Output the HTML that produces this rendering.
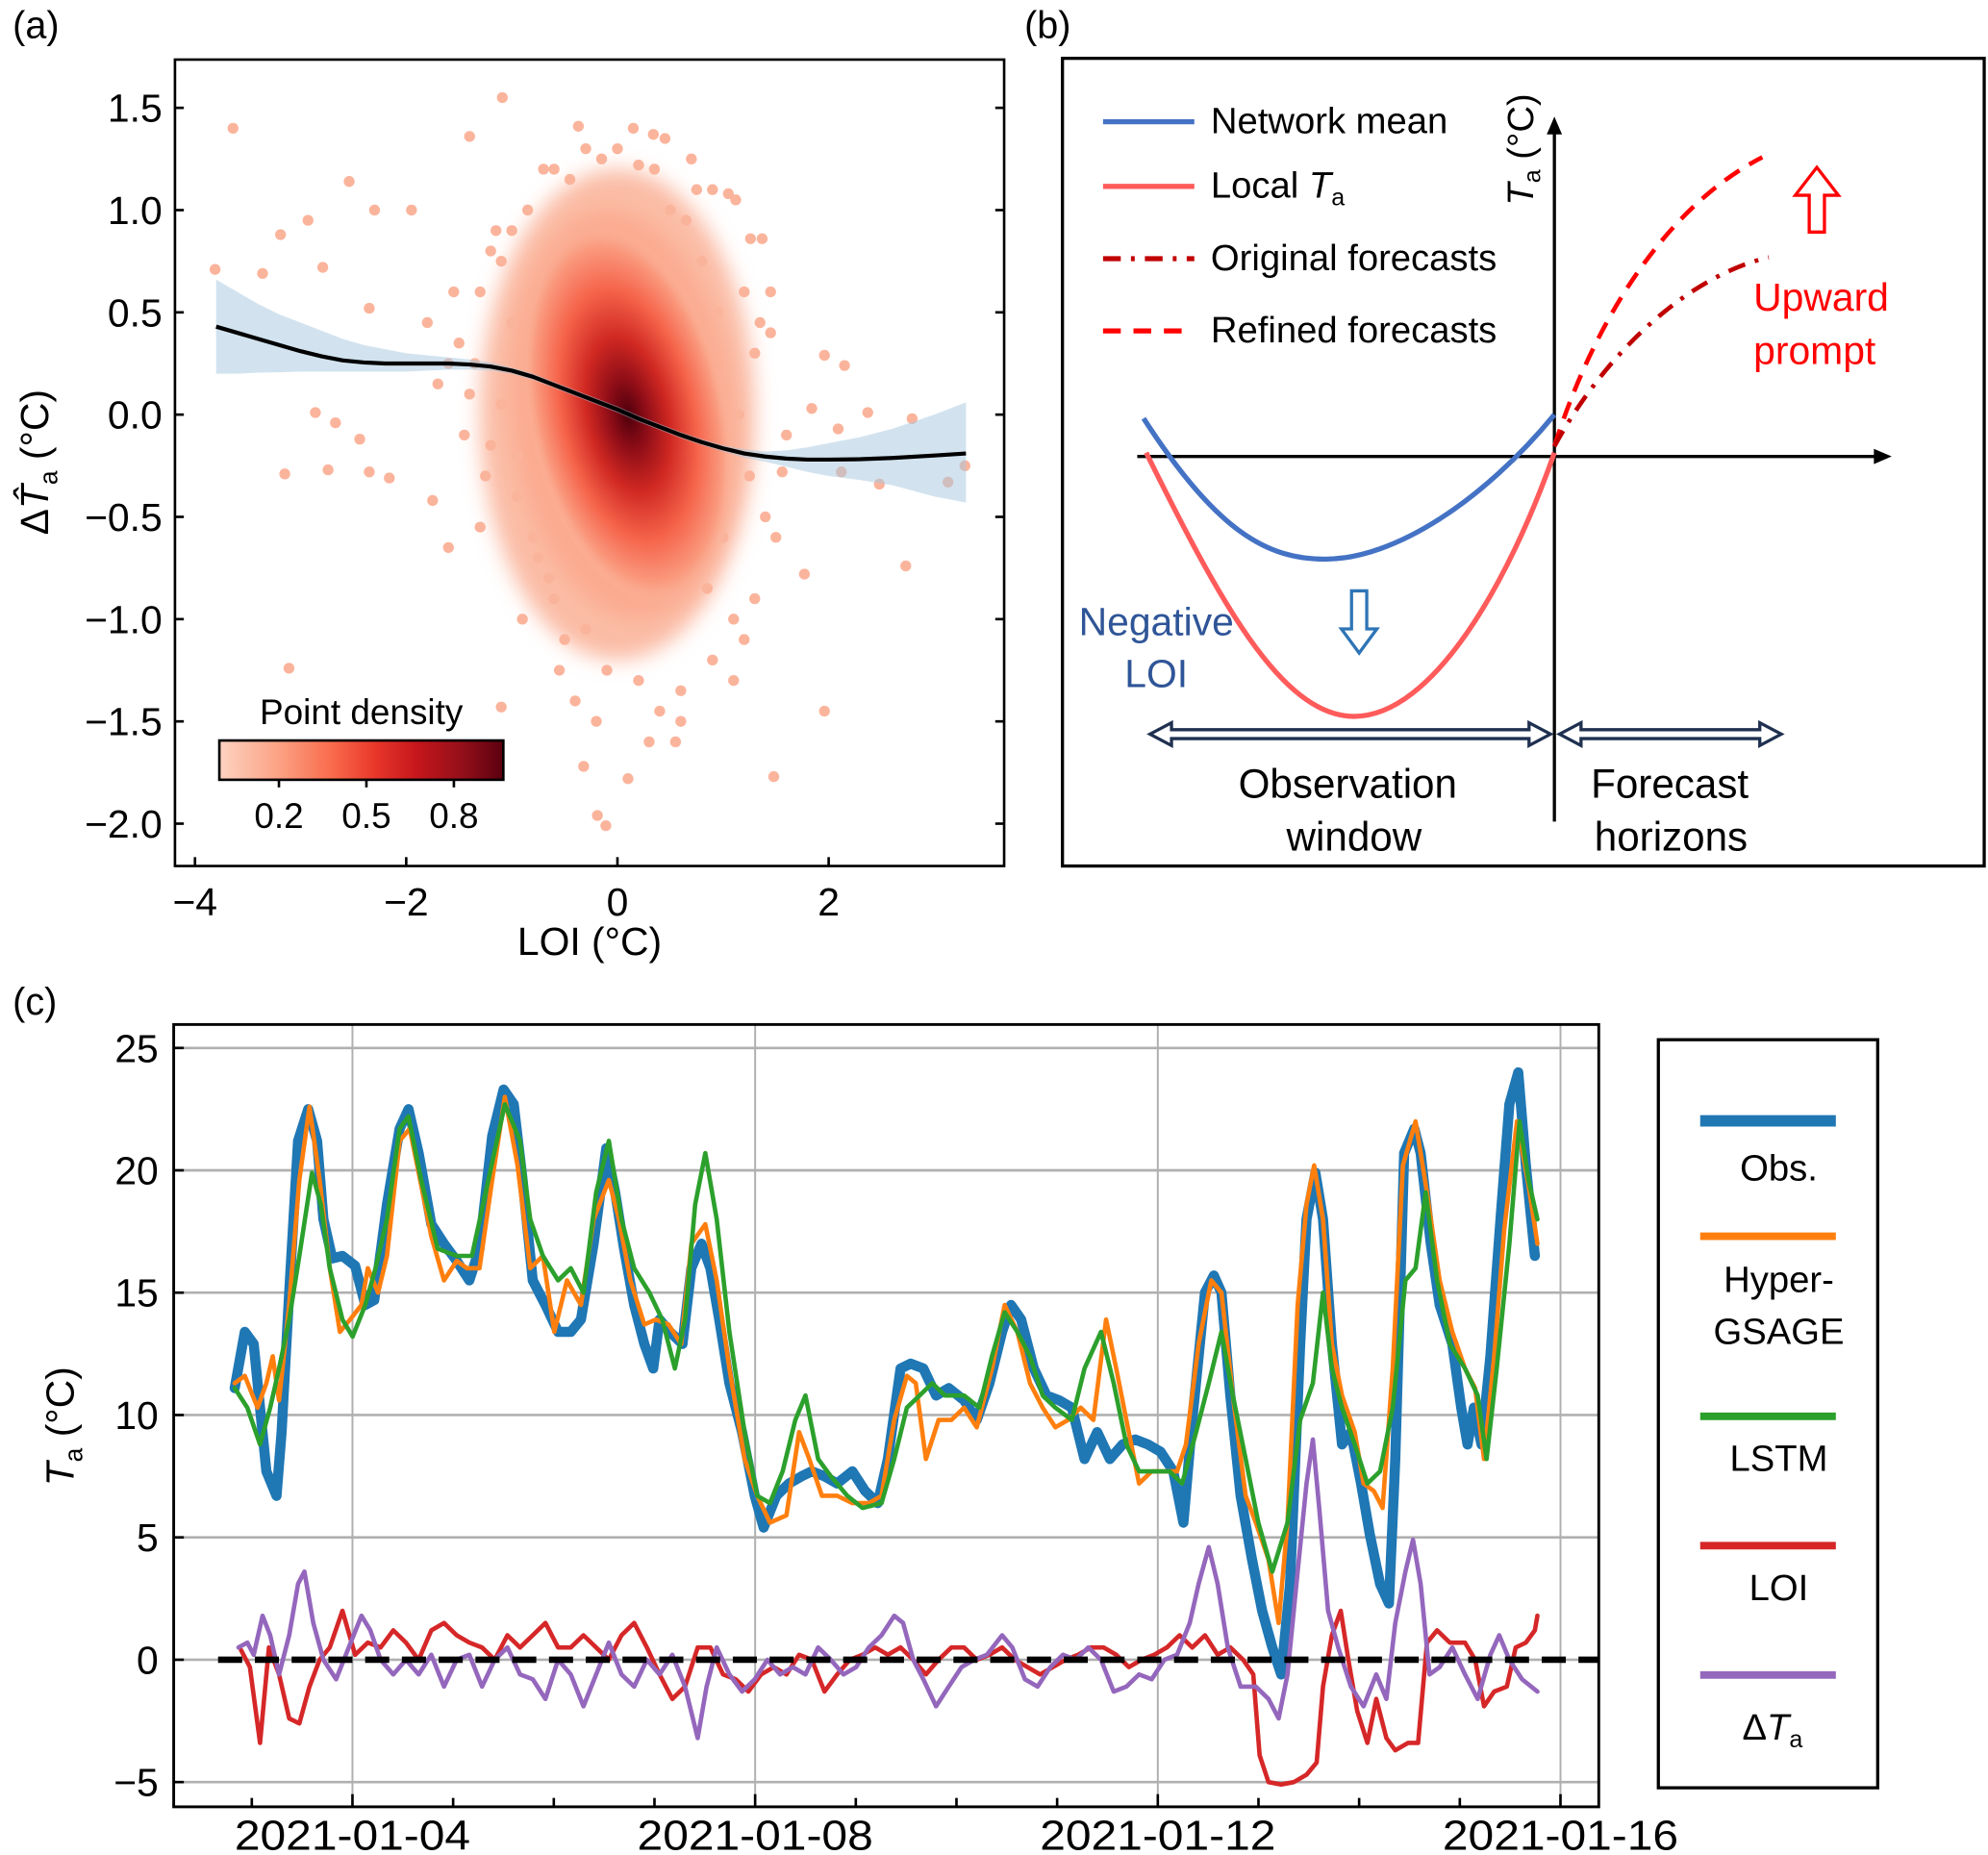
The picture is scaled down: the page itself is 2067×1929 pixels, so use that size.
<!DOCTYPE html>
<html><head><meta charset="utf-8">
<style>
html,body{margin:0;padding:0;background:#fff;}
svg{display:block;font-family:"Liberation Sans","DejaVu Sans",sans-serif;}
</style></head>
<body>
<svg id="fig" width="2067" height="1929" viewBox="0 0 1568 1463" preserveAspectRatio="none" xmlns="http://www.w3.org/2000/svg">
<defs>
<linearGradient id="cbar" x1="0" x2="1" y1="0" y2="0">
<stop offset="0" stop-color="#fdd3c1"/><stop offset="0.2" stop-color="#fca487"/>
<stop offset="0.4" stop-color="#f96a4b"/><stop offset="0.55" stop-color="#e8362a"/>
<stop offset="0.7" stop-color="#c4161c"/><stop offset="0.85" stop-color="#95101a"/>
<stop offset="1" stop-color="#5c0010"/></linearGradient>
<radialGradient id="dens" cx="0.5" cy="0.5" r="0.5">
<stop offset="0" stop-color="#4e000c"/><stop offset="0.18" stop-color="#8e0d17"/>
<stop offset="0.4" stop-color="#d02822"/><stop offset="0.65" stop-color="#f5634a"/>
<stop offset="0.88" stop-color="#fa9a7e"/><stop offset="1" stop-color="#fbb8a0" stop-opacity="0"/></radialGradient>
<filter id="blur"><feGaussianBlur stdDeviation="8"/></filter>
</defs>

<text x="10" y="30" font-size="30">(a)</text>
<text x="808" y="30" font-size="30">(b)</text>
<text x="10" y="800" font-size="30">(c)</text>

<g id="panelA"></g>
<g id="panelB">
<rect x="838" y="46" width="727" height="637" fill="none" stroke="#000" stroke-width="2.5"/>
<line x1="870" y1="96" x2="942" y2="96" stroke="#4472c4" stroke-width="4"/>
<text x="955" y="105" font-size="29">Network mean</text>
<line x1="870" y1="147" x2="942" y2="147" stroke="#ff5b5b" stroke-width="4"/>
<text x="955" y="156" font-size="29">Local <tspan font-style="italic">T</tspan><tspan font-size="19" dy="6">a</tspan></text>
<line x1="870" y1="204" x2="942" y2="204" stroke="#c00000" stroke-width="4" stroke-dasharray="14,8,3,8"/>
<text x="955" y="213" font-size="29">Original forecasts</text>
<line x1="870" y1="261" x2="942" y2="261" stroke="#ff0000" stroke-width="4" stroke-dasharray="14,10"/>
<text x="955" y="270" font-size="29">Refined forecasts</text>
<line x1="1226" y1="648" x2="1226" y2="100" stroke="#000" stroke-width="2.5"/>
<polygon points="1226,92 1220,106 1232,106" fill="#000"/>
<line x1="897" y1="360" x2="1482" y2="360" stroke="#000" stroke-width="2.5"/>
<polygon points="1492,360 1478,354 1478,366" fill="#000"/>
<text transform="translate(1209,162) rotate(-90)" font-size="29"><tspan font-style="italic">T</tspan><tspan font-size="19" dy="6">a</tspan><tspan dy="-6"> (°C)</tspan></text>
<path d="M902,330 C960,420 1000,441 1045,441 C1100,441 1170,395 1226,327" fill="none" stroke="#4472c4" stroke-width="4"/>
<path d="M904,357 C960,470 1010,565 1068,565 C1130,565 1190,460 1226,357" fill="none" stroke="#ff5b5b" stroke-width="4"/>
<path d="M1226,352 C1255,260 1310,165 1390,124" fill="none" stroke="#ff0000" stroke-width="3.5" stroke-dasharray="14,9"/>
<path d="M1226,352 C1265,280 1330,218 1395,203" fill="none" stroke="#c00000" stroke-width="3.5" stroke-dasharray="14,8,3,8"/>
<polygon points="1066,466 1078,466 1078,496 1086,496 1072,515 1058,496 1066,496" fill="#fff" stroke="#2e75b6" stroke-width="2.5"/>
<polygon points="1427,183 1439,183 1439,154 1450,154 1433,132 1416,154 1427,154" fill="#fff" stroke="#ff0000" stroke-width="2.5"/>
<text x="1383" y="245" font-size="31" fill="#ff0000">Upward</text>
<text x="1383" y="287" font-size="31" fill="#ff0000">prompt</text>
<text x="912" y="501" font-size="31" fill="#2f5597" text-anchor="middle">Negative</text>
<text x="912" y="542" font-size="31" fill="#2f5597" text-anchor="middle">LOI</text>
<polygon points="907,579 924,570 924,575.5 1206,575.5 1206,570 1223,579 1206,588 1206,582.5 924,582.5 924,588" fill="#fff" stroke="#1f3050" stroke-width="2.5"/>
<polygon points="1230,579 1247,570 1247,575.5 1388,575.5 1388,570 1405,579 1388,588 1388,582.5 1247,582.5 1247,588" fill="#fff" stroke="#1f3050" stroke-width="2.5"/>
<text x="1063" y="629" font-size="32" text-anchor="middle">Observation</text>
<text x="1068" y="671" font-size="32" text-anchor="middle">window</text>
<text x="1317" y="629" font-size="32" text-anchor="middle">Forecast</text>
<text x="1318" y="671" font-size="32" text-anchor="middle">horizons</text>
</g>
<g id="panelC"></g>
</svg>

<script>
// ===== Panel A data =====
const aXTicks=[-4,-2,0,2];
const aYTicks=[1.5,1.0,0.5,0.0,-0.5,-1.0,-1.5,-2.0];
const aYTickLabels=["1.5","1.0","0.5","0.0","\u22120.5","\u22121.0","\u22121.5","\u22122.0"];
const aXTickLabels=["\u22124","\u22122","0","2"];
const fitX=[-3.8,-3.6,-3.4,-3.2,-3,-2.8,-2.6,-2.4,-2.2,-2,-1.8,-1.6,-1.4,-1.2,-1,-0.8,-0.6,-0.4,-0.2,0,0.2,0.4,0.6,0.8,1,1.2,1.4,1.6,1.8,2,2.3,2.6,3,3.3];
const fitY=[0.43,0.40,0.37,0.34,0.31,0.285,0.265,0.255,0.25,0.25,0.25,0.25,0.245,0.235,0.215,0.185,0.145,0.105,0.065,0.025,-0.02,-0.06,-0.10,-0.135,-0.165,-0.19,-0.205,-0.215,-0.22,-0.22,-0.218,-0.212,-0.2,-0.19];
const bandHi=[0.66,0.60,0.54,0.49,0.45,0.41,0.37,0.34,0.32,0.30,0.29,0.28,0.27,0.255,0.23,0.2,0.16,0.12,0.08,0.04,-0.005,-0.045,-0.085,-0.12,-0.15,-0.17,-0.18,-0.175,-0.16,-0.14,-0.11,-0.07,0.0,0.06];
const bandLo=[0.20,0.20,0.205,0.207,0.21,0.21,0.21,0.21,0.21,0.21,0.215,0.22,0.22,0.215,0.2,0.17,0.13,0.09,0.05,0.01,-0.035,-0.075,-0.115,-0.15,-0.18,-0.21,-0.23,-0.255,-0.28,-0.30,-0.32,-0.345,-0.40,-0.43];
const outX=[-3.64,-3.81,-3.19,-2.93,-2.54,-2.3,-1.95,-3.36,-2.79,-2.35,-3.15,-2.74,-2.35,-2.16,-2.86,-2.67,-2.44,-3.11,-1.1,-0.32,-0.19,-0.11,0.1,1.48,1.96,1.77,2.73,3.13,3.29,2.79,2.37,1.96,2.15,2.09,2.12,2.48,-1.09,-1.4,-0.37,0.34,1.26,1.37,1.05,1.12,1.84,1.56,-1.8,-1.75,-1.6,-1.7,1.5,1.45,1.6,-0.6,0.7,0.55,-0.9,-1.2,1.1,0.9,
-1.5,-1.3,-1.4,-1.2,-1.1,-1.0,-0.95,-1.25,-1.35,-1.15,-0.85,-0.7,-0.75,-0.6,-0.45,-0.3,-0.15,0.0,0.2,0.35,0.5,0.65,0.8,0.95,1.2,1.3,1.15,1.25,1.4,1.0,0.85,1.1,1.3,0.9,0.6,0.4,0.2,-0.1,-0.3,-0.5,-0.65,-0.8,-0.95,-1.1,-1.3,-1.45,-1.6,-0.55,0.45,0.75,-0.2,0.15,1.35,-1.0,-0.4,0.3,0.6,1.2,1.45,-1.55];
const outY=[1.4,0.71,0.88,0.95,1.14,1.0,1.0,0.69,0.72,0.52,-0.29,-0.27,-0.28,-0.31,0.01,-0.04,-0.12,-1.24,-1.43,-1.72,-1.96,-2.01,-1.78,-1.77,-1.45,-0.78,-0.74,-0.33,-0.25,-0.02,0.01,0.29,0.24,-0.07,-0.28,-0.34,1.55,1.36,1.41,1.37,0.86,0.86,1.08,1.05,0.03,-0.28,0.45,-0.42,-0.65,0.15,-0.6,0.4,-0.1,1.2,1.25,-1.6,-1.0,0.8,-1.3,1.1,
0.35,0.6,0.1,-0.15,0.75,0.45,-0.4,-0.3,0.25,0.9,1.0,1.2,-0.7,-0.9,1.15,1.3,1.25,1.3,1.22,1.2,1.0,0.95,0.75,0.5,0.6,0.3,0.0,-0.3,-0.5,-0.6,-0.85,-1.0,-0.9,-1.2,-1.35,-1.45,-1.3,-1.25,-1.05,-1.1,-0.8,-0.6,-0.2,0.05,-0.55,-0.1,0.25,-1.25,1.35,1.1,-1.5,1.4,0.45,0.9,-1.4,-1.6,-1.5,-1.1,0.6,0.6];

// ===== Panel C data =====
const stepDays=0.126;
const startDay=2.83;
const cYTicks=[25,20,15,10,5,0,-5];
const cYTickLabels=["25","20","15","10","5","0","\u22125"];
const cXTickDays=[4,8,12,16];
const cXTickLabels=["2021-01-04","2021-01-08","2021-01-12","2021-01-16"];
const obsT=[0,0.8,1.5,2,2.5,3.3,3.7,4.3,5,5.8,6.5,7,7.7,8.5,9.5,10.3,11,12,13,13.7,14.5,15.5,16.5,17.5,18.5,19.3,20.3,21.2,22,22.7,23.5,24.5,25.5,26.5,27.3,28.3,29.3,30,30.7,31.5,32.3,33,33.5,34.3,35.3,36,36.8,37.5,38.2,39,40,41,41.7,42.7,43.7,44.7,45.5,46.5,47.5,48.7,49.7,50.7,51.5,52.5,53.3,54.3,55.3,56.3,57.5,58.5,59.5,60.5,61.2,62,63,64,65,66,67,68,69,70,71,72,73,74,74.8,75.5,76.5,77.2,77.8,78.5,79.3,80.2,81,81.8,82.5,83.2,84,84.5,85.2,85.8,86.5,87.3,88,88.8,89.5,90.3,91,91.5,92.2,93,93.5,94.3,95,96,96.7,97.2,97.7,98.3,99,99.8,100.5,101.2,101.8,102.5];
const obsV=[11.1,13.4,12.9,10.3,7.7,6.7,9.3,15,21.2,22.5,21.2,18,16.4,16.5,16.1,14.5,14.7,18.6,21.7,22.5,20.7,17.8,17,16.3,15.5,16.8,21.4,23.3,22.7,19.6,15.5,14.5,13.4,13.4,13.9,17,20.9,19.1,16.8,14.5,12.9,11.9,13.9,13.4,12.9,16,17,16,13.9,11.3,9.3,6.7,5.4,6.7,7.2,7.5,7.7,7.5,7.2,7.7,6.9,6.4,8.2,11.9,12.1,11.9,10.8,11.1,10.6,9.8,11.3,13.4,14.5,13.9,11.9,10.8,10.6,10.3,8.2,9.3,8.2,8.8,9,8.8,8.5,7.7,5.6,9.8,15,15.7,15,10.8,6.7,4.1,2,0.5,-0.6,3.1,12.9,18,19.9,18,12.9,8.8,9.3,7.2,5.1,3.1,2.3,8.2,20.7,21.7,20.7,17,14.5,12.9,10.3,8.8,10.3,8.8,12.4,18,22.7,24,20.2,16.5];
const hypT=[0,0.8,1.8,2.5,3,3.5,4.3,5.1,5.9,6.7,7.5,8.3,9.1,10,10.5,11.3,12,13,13.8,14.7,15.5,16.5,17.5,18.3,19.3,20.3,21.3,22.3,23.3,24.3,25.2,26.2,27.3,28.3,29.5,30.3,31.2,32.3,33.2,34.2,35.2,36,37.1,38,39,40.2,41.2,42.2,43.5,44.5,45.3,46.3,47.5,48.7,50,51,52,53,53.7,54.5,55.5,56.5,57.5,58.5,59.7,60.7,61.7,62.7,63.7,64.7,65.7,66.7,67.7,68.7,69.5,70.3,71.3,72.3,73.3,74.3,75,76,77,77.8,78.7,79.7,80.5,81.5,82.3,83,83.8,84.5,85.1,85.8,86.5,87.3,88.3,89,89.8,90.5,91.3,92.1,93.1,94,95,96,97,97.8,98.5,99.3,100.1,101.1,102,102.7];
const hypV=[11.3,11.6,10.3,11.3,12.4,10.6,14.5,19.6,22.6,19.6,16,13.4,13.9,14.5,16,15,16.5,21.2,21.7,19.4,17.3,15.5,16.3,16,16,19.6,23,20.2,16,16.5,13.4,15.5,14.5,18,19.6,18,15.5,13.7,13.9,13.7,12.9,17,17.8,15.5,11.9,8.2,6.7,5.6,5.9,9.3,8.2,6.7,6.7,6.4,6.4,6.7,9.8,11.6,11.3,8.2,9.8,9.8,10.3,9.5,11.9,14.5,13.4,11.3,10.3,9.5,9.8,10.3,9.8,13.9,11.9,9.8,7.2,7.7,7.7,7.7,8.8,12.9,15.5,15,10.8,6.7,5.6,4.1,1.5,5.6,14.5,18.6,20.2,18,12.9,10.8,9.3,7.2,6.9,6.2,11.9,20.2,22,19.1,15.5,13.4,11.9,11.1,8.2,12.4,17.6,22,19.4,17];
const lstmT=[0,1,2,2.8,3.5,4.3,5.1,6.1,6.8,7.5,8.5,9.3,10.3,11.1,12,13,13.7,14.7,16,17.5,18.7,20,21.3,22.5,23.3,24.3,25.5,26.5,27.5,28.5,29.5,30.5,31.5,32.7,33.7,34.7,35.5,36.3,37.1,38,39,40.2,41.2,42.2,43.2,44.2,45,46,47,48.3,49.5,51,52,53,54,55,56,57.5,58.7,59.7,60.7,61.7,62.7,63.7,64.7,66,67,68.3,69.3,70.3,71.3,72.5,73.7,74.7,75.8,76.8,77.8,78.7,79.7,80.7,81.8,83,84,85,85.8,86.5,87.3,88.3,89.3,90.3,91.3,92.3,93.1,93.9,94.8,95.8,97,98,98.7,99.5,100.5,101.3,102,102.7];
const lstmV=[11.1,10.3,8.8,10.3,11.9,13.9,16.5,19.9,18.6,16,13.9,13.2,14.5,16,18,21.7,22.2,19.6,16.8,16.5,16.5,19.6,22.7,21.2,18,16.5,15.5,16,15,19.1,21.2,18,16,15,13.9,11.9,13.9,18.6,20.7,18,13.4,9.3,6.7,6.4,7.7,9.8,10.8,8.2,7.5,6.7,6.2,6.4,8.2,10.3,10.8,11.3,10.8,10.8,10.3,12.4,14.2,13.4,12.4,10.8,10.3,9.8,11.9,13.4,11.3,8.8,7.7,7.7,7.7,7.2,9.3,11.3,13.4,10.8,8.2,5.6,3.6,5.6,9.8,11.3,15,11.9,10.3,8.8,7.2,7.7,10.3,15.5,16,19.1,15.5,12.9,11.9,10.8,8.2,11.9,17,22,19.6,18];
const loiT=[0.5,1.2,2,2.7,3.5,4.3,5.1,5.9,6.7,7.5,8.5,9.5,10.5,11.5,12.5,13.5,14.5,15.5,16.5,17.5,18.5,19.5,20.5,21.5,22.5,23.5,24.5,25.5,26.5,27.5,28.5,29.5,30.5,31.5,32.5,33.5,34.5,35.5,36.5,37.5,38.5,39.5,40.5,41.5,42.5,43.5,44.5,45.5,46.5,47.5,48.5,49.5,50.5,51.5,52.5,53.5,54.5,55.5,56.5,57.5,58.5,59.5,60.5,61.5,62.5,63.5,64.5,65.5,66.5,67.5,68.5,69.5,70.5,71.5,72.5,73.5,74.5,75.5,76.5,77.5,78.5,79.5,80.3,80.8,81.5,82.5,83.5,84.5,85.3,85.8,86.5,87.2,87.8,88.5,89.3,90,90.8,91.5,92.5,93.3,94,94.8,95.8,97,97.8,98.5,99.3,100.3,101,101.8,102.5,102.7];
const loiV=[0.4,-0.3,-3.4,0.5,-0.6,-2.4,-2.6,-1.1,0,0.5,2,0.2,0.7,0.5,1.2,0.7,0,1.2,1.5,1,0.7,0.5,0,1,0.5,1,1.5,0.5,0.5,1,0.5,0,1,1.5,0.5,-0.6,-1.6,-1.1,0.5,0.5,-0.6,-0.8,-1.3,-0.6,-0.3,-0.6,0.2,0,-1.3,-0.6,0,0.2,0.5,0.2,0.5,0,-0.6,0,0.5,0.5,0,0.2,0.5,0,-0.3,-0.6,-0.3,0,0.2,0.5,0.5,0.2,-0.3,0,0.2,0.5,1,0.5,1,0.2,0.5,0,-0.6,-3.9,-5,-5.1,-5,-4.7,-4.2,-1.1,1,2,0,-2.1,-3.4,-1.6,-3.2,-3.7,-3.4,-3.4,0.7,1.2,0.7,0.7,0,-1.9,-1.3,-1.1,0.5,0.7,1.2,1.8];
const dtaT=[0.3,1,1.5,2.2,2.8,3.5,4.3,5,5.5,6.2,7,8,9,10,10.7,11.5,12.5,13.5,14.5,15.5,16.5,17.5,18.5,19.5,20.5,21.5,22.5,23.5,24.5,25.5,26.5,27.5,28.5,29.5,30.5,31.5,32.5,33.5,34.5,35.5,36.5,37.2,38,39,40,41,42,43,44,45,46,47,48,49,50,51,52,52.7,53.5,54.3,55.3,56.3,57.3,58.3,59.3,60.5,61.3,62.3,63.3,64.3,65.3,66.3,67.3,68.3,69.3,70.3,71.3,72.3,73.3,74.3,75.3,76,76.8,77.5,78.3,79.3,80.5,81.5,82.3,83,83.8,84.5,85,85.5,86.2,87,88,89,90,90.8,91.5,92.3,92.9,93.5,94.2,95,96,97,98,99,99.7,100.5,101.5,102.7];
const dtaV=[0.5,0.7,0.2,1.8,1,-0.6,1,3.1,3.6,1.5,0,-0.8,0.5,1.8,1.2,0,-0.6,0,-0.6,0.2,-1.1,0,0.2,-1.1,0,0.5,-0.6,-0.8,-1.6,0,-0.6,-1.9,-0.6,0.7,-0.6,-1.1,0,-0.6,0.2,-1.1,-3.2,-1.1,0.5,-0.6,-1.3,-0.8,0,-0.6,-0.3,-0.6,0.5,0,-0.6,-0.3,0.5,1,1.8,1.5,0,-0.8,-1.9,-1.1,-0.3,0,0.2,1,0.5,-0.8,-1.1,-0.3,0.2,0,0.5,0,-1.3,-1.1,-0.6,-0.8,0,0.2,1.5,3.1,4.6,3.1,0.5,-1.1,-1.1,-1.6,-2.4,-0.6,3.6,7.2,9,6.2,2,0.5,-1.1,-1.9,-0.6,-1.6,1.5,3.6,4.9,3.1,-0.6,-0.3,0.5,-0.6,-1.6,0.2,1,0,-0.8,-1.3];

const NS="http://www.w3.org/2000/svg";
function mk(parent,tag,attrs,txt){const e=document.createElementNS(NS,tag);for(const k in attrs)e.setAttribute(k,attrs[k]);if(txt!==undefined)e.textContent=txt;parent.appendChild(e);return e;}

(function(){
const g=document.getElementById('panelA');
const X0=138,X1=792,Y0=47,Y1=683;
const ax=v=>487+v*83.3, ay=v=>327-v*161.3;
const cloud=mk(g,'g',{});


mk(cloud,'ellipse',{cx:ax(0.0),cy:ay(0.0),rx:1.3*83.3,ry:1.2*161.3,fill:'#fbbca5',filter:'url(#blur)'});
mk(cloud,'ellipse',{cx:ax(0.05),cy:ay(0.0),rx:1.05*83.3,ry:1.0*161.3,fill:'#fbaa8f',transform:'rotate(-6 '+ax(0.05)+' '+ay(0)+')',filter:'url(#blur)'});
mk(cloud,'ellipse',{cx:ax(0.1),cy:ay(0.0),rx:0.95*83.3,ry:0.95*161.3,fill:'url(#dens)',transform:'rotate(-12 '+ax(0.1)+' '+ay(0.0)+')'});
for(let i=0;i<outX.length;i++){
 const c=mk(g,'circle',{cx:ax(outX[i]),cy:ay(outY[i]),r:4.3,fill:'#fbb49c'});
 
 
}
let d='';
fitX.forEach((x,i)=>{d+=(i?'L':'M')+ax(x)+','+ay(bandHi[i]);});
for(let i=fitX.length-1;i>=0;i--)d+='L'+ax(fitX[i])+','+ay(bandLo[i]);
const band=mk(g,'path',{d:d+'Z',fill:'#a6c8e0',opacity:0.5});


let dl='';
fitX.forEach((x,i)=>{dl+=(i?'L':'M')+ax(x)+','+ay(fitY[i]);});
const fl=mk(g,'path',{d:dl,fill:'none',stroke:'#000','stroke-width':3.2,'stroke-linejoin':'round'});


const fr=mk(g,'rect',{x:X0,y:Y0,width:X1-X0,height:Y1-Y0,fill:'none',stroke:'#000','stroke-width':2});


aYTicks.forEach((v,i)=>{
 mk(g,'line',{x1:X0,x2:X0+7,y1:ay(v),y2:ay(v),stroke:'#000','stroke-width':2});
 mk(g,'line',{x1:X1,x2:X1-7,y1:ay(v),y2:ay(v),stroke:'#000','stroke-width':2});
 const t=mk(g,'text',{x:X0-10,y:ay(v)+11,'font-size':31,'text-anchor':'end'},aYTickLabels[i]);
 
 
});
aXTicks.forEach((v,i)=>{
 mk(g,'line',{x1:ax(v),x2:ax(v),y1:Y1,y2:Y1-7,stroke:'#000','stroke-width':2});
 const t=mk(g,'text',{x:ax(v),y:Y1+39,'font-size':31,'text-anchor':'middle'},aXTickLabels[i]);
 
 
});
const xl=mk(g,'text',{x:465,y:753,'font-size':31,'text-anchor':'middle'},'LOI (°C)');


const yl=mk(g,'text',{transform:'translate(38,422) rotate(-90)','font-size':31});


mk(yl,'tspan',{},'Δ');mk(yl,'tspan',{'font-style':'italic'},'T\u0302');mk(yl,'tspan',{'font-size':20,dy:7},'a');mk(yl,'tspan',{dy:-7},' (°C)');
const cb=mk(g,'rect',{x:173,y:584,width:224,height:31,fill:'url(#cbar)',stroke:'#000','stroke-width':2});


const ct=mk(g,'text',{x:285,y:571,'font-size':28,'text-anchor':'middle'},'Point density');


[[0.2,220],[0.5,289],[0.8,358]].forEach(p=>{
 mk(g,'line',{x1:p[1],x2:p[1],y1:615,y2:621,stroke:'#000','stroke-width':2});
 const t=mk(g,'text',{x:p[1],y:653,'font-size':28,'text-anchor':'middle'},String(p[0]));
 
 
});
})();

(function(){
const g=document.getElementById('panelC');
const X0=137,X1=1261,Y0=808,Y1=1425;
const xDay=d=>278+(d-4)*79.4;
const xT=t=>xDay(startDay+t*stepDays);
const yV=v=>1309-v*19.3;
cYTicks.forEach((v,i)=>{
 mk(g,'line',{x1:X0,x2:X1,y1:yV(v),y2:yV(v),stroke:'#b0b0b0','stroke-width':2});
 mk(g,'line',{x1:X0,x2:X0+8,y1:yV(v),y2:yV(v),stroke:'#000','stroke-width':2});
 const t=mk(g,'text',{x:X0-12,y:yV(v)+11,'font-size':31,'text-anchor':'end'},cYTickLabels[i]);
 
 
});
cXTickDays.forEach((d,i)=>{
 mk(g,'line',{x1:xDay(d),x2:xDay(d),y1:Y0,y2:Y1,stroke:'#b0b0b0','stroke-width':1.5});
 const t=mk(g,'text',{x:xDay(d),y:Y1+34,'font-size':33,'text-anchor':'middle',textLength:186,lengthAdjust:'spacingAndGlyphs'},cXTickLabels[i]);
 
 
});
for(let d=3;d<=16;d++){mk(g,'line',{x1:xDay(d),x2:xDay(d),y1:Y1,y2:Y1-(d%4===0?10:7),stroke:'#000','stroke-width':2});}
function series(T,V,color,w,name){
 let p='';T.forEach((t,i)=>{p+=(i?'L':'M')+xT(t).toFixed(1)+','+yV(V[i]).toFixed(1);});
 const e=mk(g,'path',{d:p,fill:'none',stroke:color,'stroke-width':w,'stroke-linejoin':'round','stroke-linecap':'round'});
 
 
}
series(obsT,obsV,'#1f77b4',8,'obs-line');
series(hypT,hypV,'#ff7f0e',3.5,'hypergsage-line');
series(lstmT,lstmV,'#2ca02c',3.5,'lstm-line');
series(loiT,loiV,'#d62728',3.5,'loi-line');
series(dtaT,dtaV,'#9467bd',3.5,'delta-ta-line');
const z=mk(g,'line',{x1:172,x2:X1,y1:yV(0),y2:yV(0),stroke:'#000','stroke-width':5,'stroke-dasharray':'19,10'});


const fr=mk(g,'rect',{x:X0,y:Y0,width:X1-X0,height:Y1-Y0,fill:'none',stroke:'#000','stroke-width':2.2});


const yl=mk(g,'text',{transform:'translate(58,1172) rotate(-90)','font-size':31});


mk(yl,'tspan',{'font-style':'italic'},'T');mk(yl,'tspan',{'font-size':20,dy:7},'a');mk(yl,'tspan',{dy:-7},' (°C)');
const lg=mk(g,'g',{});


mk(lg,'rect',{x:1308,y:820,width:173,height:590,fill:'#fff',stroke:'#000','stroke-width':2.5});
const items=[['#1f77b4',9,884,['Obs.'],[931]],['#ff7f0e',6,975,['Hyper-','GSAGE'],[1019,1060]],['#2ca02c',6,1117,['LSTM'],[1160]],['#d62728',6,1219,['LOI'],[1262]],['#9467bd',6,1321,null,[1372]]];
items.forEach(it=>{
 const l=mk(lg,'line',{x1:1341,x2:1448,y1:it[2],y2:it[2],stroke:it[0],'stroke-width':it[1]});
 
 
 if(it[3]){it[3].forEach((s,j)=>{const t=mk(lg,'text',{x:1403,y:it[4][j],'font-size':29,'text-anchor':'middle'},s);
  
  });}
 else{const t=mk(lg,'text',{x:1398,y:it[4][0],'font-size':29,'text-anchor':'middle'});
  
  
  mk(t,'tspan',{},'Δ');mk(t,'tspan',{'font-style':'italic'},'T');mk(t,'tspan',{'font-size':19,dy:6},'a');}
});
})();
</script>
</body></html>
